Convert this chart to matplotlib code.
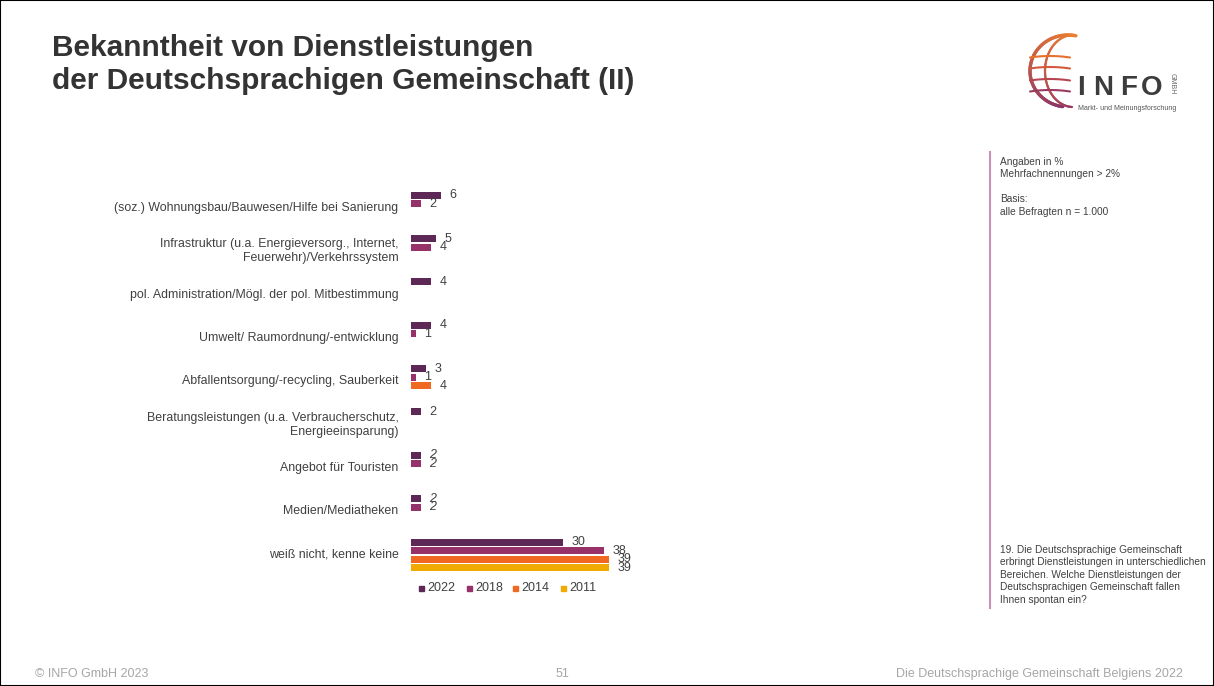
import numpy as np
import matplotlib.pyplot as plt
from matplotlib.patches import Rectangle
from matplotlib.collections import LineCollection
from matplotlib.colors import to_rgb

# --------------------
# Data (percent, None = no bar)
categories = [
    "(soz.) Wohnungsbau/Bauwesen/Hilfe bei Sanierung",
    "Infrastruktur (u.a. Energieversorg., Internet,\nFeuerwehr)/Verkehrssystem",
    "pol. Administration/Mögl. der pol. Mitbestimmung",
    "Umwelt/ Raumordnung/-entwicklung",
    "Abfallentsorgung/-recycling, Sauberkeit",
    "Beratungsleistungen (u.a. Verbraucherschutz,\nEnergieeinsparung)",
    "Angebot für Touristen",
    "Medien/Mediatheken",
    "weiß nicht, kenne keine",
]
years = ["2022", "2018", "2014", "2011"]
v2022 = [6, 5, 4, 4, 3, 2, 2, 2, 30]
v2018 = [2, 4, None, 1, 1, None, 2, 2, 38]
v2014 = [None, None, None, None, 4, None, None, None, 39]
v2011 = [None, None, None, None, None, None, None, None, 39]
italic_cats = [6, 7]  # labels shown in italics

colors = ["#5D2855", "#963269", "#F06923", "#F0AA00"]
txt_col = "#404040"
grey = "#A6A6A6"

plt.rcParams['font.family'] = ['Liberation Sans', 'DejaVu Sans']

W, H = 1214, 686
fig = plt.figure(figsize=(W / 100, H / 100), dpi=100)

# frame of the slide
fig.patches.append(Rectangle((0, 0), 1, 1, transform=fig.transFigure,
                             fill=False, edgecolor="black", linewidth=1.5))

# --------------------
# Title
fig.text(52 / W, 1 - 48 / H, "Bekanntheit von Dienstleistungen",
         fontsize=21.5, fontweight="bold", color="#333333", va="center")
fig.text(52 / W, 1 - 81 / H, "der Deutschsprachigen Gemeinschaft (II)",
         fontsize=21.5, fontweight="bold", color="#333333", va="center")

# --------------------
# Bar chart axes
x0, x_unit = 411, 5.08
top, step = 208, 43.35
ax = fig.add_axes([x0 / W, 1 - (top + 8.5 * step) / H,
                   40 * x_unit / W, 9 * step / H])
ax.set_xlim(0, 40)
ax.set_ylim(8.5, -0.5)
ax.axis("off")

slot = 8.5 / step
bar_h = 7 / step
series = [v2022, v2018, v2014, v2011]
for k, vals in enumerate(series):
    for i, v in enumerate(vals):
        if v is None:
            continue
        y = i + (k - 1.5) * slot
        ax.barh(y, v, height=bar_h, color=colors[k], edgecolor="none")
        ax.annotate(str(v), (v, y), xytext=(6, 0), textcoords="offset points",
                    va="center", ha="left", fontsize=9, color=txt_col,
                    style="italic" if i in italic_cats else "normal")

for i, c in enumerate(categories):
    ax.annotate(c, (0, i), xytext=(-9, 0), textcoords="offset points",
                ha="right", va="center", fontsize=8.9, color=txt_col,
                multialignment="right", linespacing=1.2)

# Legend
lx = [419, 467, 513, 561]
for k, y_ in enumerate(years):
    fig.patches.append(Rectangle((lx[k] / W, 1 - 591 / H), 5 / W, 5 / H,
                                 transform=fig.transFigure, color=colors[k]))
    fig.text((lx[k] + 8) / W, 1 - 588 / H, y_, fontsize=9, color=txt_col,
             va="center")

# --------------------
# Right info panel
fig.add_artist(plt.Line2D([990 / W, 990 / W], [1 - 152 / H, 1 - 608 / H],
                          transform=fig.transFigure, color="#C990B8", lw=1.5))
info = "Angaben in %\nMehrfachnennungen > 2%\n\nBasis:\nalle Befragten n = 1.000"
fig.text(1000 / W, 1 - 157 / H, info, fontsize=7.3, color=txt_col,
         va="top", linespacing=1.3)
question = ("19. Die Deutschsprachige Gemeinschaft\n"
            "erbringt Dienstleistungen in unterschiedlichen\n"
            "Bereichen. Welche Dienstleistungen der\n"
            "Deutschsprachigen Gemeinschaft fallen\n"
            "Ihnen spontan ein?")
fig.text(1000 / W, 1 - 545 / H, question, fontsize=7.3, color=txt_col,
         va="top", linespacing=1.3)

# --------------------
# Logo
lax = fig.add_axes([1010 / W, 1 - 125 / H, 190 / W, 105 / H])
lax.set_xlim(1010, 1200)
lax.set_ylim(125, 20)
lax.axis("off")


def grad_curve(xs, ys, c1, c2, lw):
    pts = np.column_stack([xs, ys]).reshape(-1, 1, 2)
    segs = np.concatenate([pts[:-1], pts[1:]], axis=1)
    a, b = np.array(to_rgb(c1)), np.array(to_rgb(c2))
    t = np.linspace(0, 1, len(segs))[:, None]
    lax.add_collection(LineCollection(segs, colors=a * (1 - t) + b * t,
                                      linewidths=lw, capstyle="round"))


# outer rim of the globe
th = np.radians(np.linspace(78, 262, 80))
grad_curve(1068 + 38 * np.cos(th), 71 - 36 * np.sin(th), "#F08030", "#8A3468", 2.4)
# meridian
th = np.radians(np.linspace(88, 268, 80))
grad_curve(1073 + 28 * np.cos(th), 71 - 36 * np.sin(th), "#F08030", "#9A3A60", 1.6)
# latitude lines
lat_y = [56, 67, 79, 90]
lat_c = ["#E8702E", "#D45A3E", "#B84650", "#9A3A60"]
for yy, cc in zip(lat_y, lat_c):
    xs = np.linspace(1030, 1070, 20)
    ys = yy + 1.5 * ((xs - 1050) / 20) ** 2
    lax.plot(xs, ys, color=cc, lw=1.5, solid_capstyle="round")

for ch, xc in zip("INFO", [1081, 1103, 1129, 1152]):
    lax.text(xc, 95, ch, fontsize=20, fontweight="bold", color="#3C3C3C",
             va="baseline", ha="center")
lax.text(1172, 84, "GMBH", fontsize=5, color="#666666", rotation=270,
         va="center", ha="center")
lax.text(1127, 108, "Markt- und Meinungsforschung", fontsize=5,
         color="#555555", ha="center", va="center")

# --------------------
# Footer
fig.text(35 / W, 1 - 674 / H, "© INFO GmbH 2023", fontsize=9, color=grey,
         va="center")
fig.text(562 / W, 1 - 674 / H, "51", fontsize=9, color=grey, va="center",
         ha="center")
fig.text(1183 / W, 1 - 674 / H, "Die Deutschsprachige Gemeinschaft Belgiens 2022",
         fontsize=9, color=grey, va="center", ha="right")

fig.savefig("out.png", dpi=100)
